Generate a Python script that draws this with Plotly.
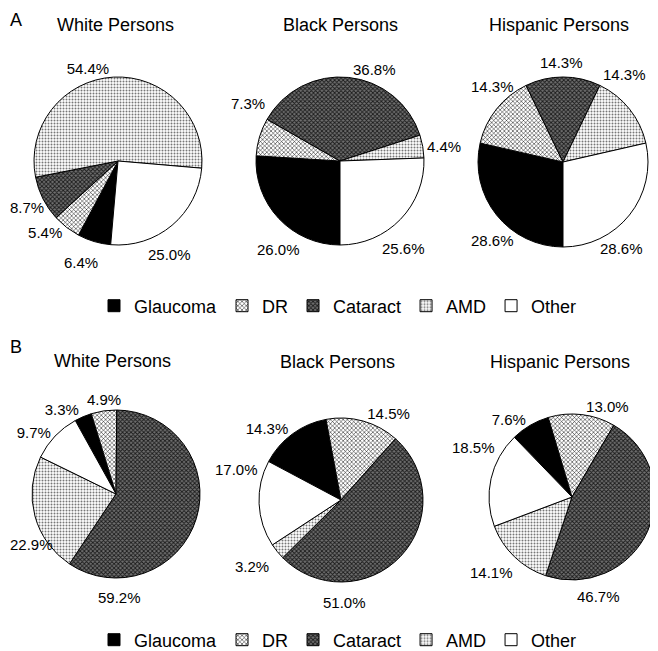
import math
import plotly.graph_objects as go

# data
causes = ["Glaucoma", "DR", "Cataract", "AMD", "Other"]
groups = ["White Persons", "Black Persons", "Hispanic Persons"]

# panel A
white_a = [6.4, 5.4, 8.7, 54.4, 25.0]
black_a = [26.0, 7.3, 36.8, 4.4, 25.6]
hispanic_a = [28.6, 14.3, 14.3, 14.3, 28.6]

# panel B
white_b = [3.3, 4.9, 59.2, 22.9, 9.7]
black_b = [14.3, 14.5, 51.0, 3.2, 17.0]
hispanic_b = [7.6, 13.0, 46.7, 14.1, 18.5]

# the page puts the plot 8px in from the window corner
OFF = 8
FW, FH = 658 - OFF, 651 - OFF
FONT = "Liberation Sans, Arial, sans-serif"


def fx(x):
    return (x - OFF) / FW


def fy(y):
    return 1 - (y - OFF) / FH


# fills for each cause: (bgcolor, fgcolor, shape, size, solidity)
fills = {
    "Glaucoma": ("#000000", "#000000", "", 4, 0.3),
    "DR": ("#ffffff", "#000000", "x", 3, 0.3),
    "Cataract": ("#707070", "#1a1a1a", "x", 3, 0.5),
    "AMD": ("#ffffff", "#777777", ".", 3, 0.35),
    "Other": ("#ffffff", "#ffffff", "", 4, 0.3),
}

# pie centre x, centre y, radius (px, window coords), start angle
geom_a = [(118, 161, 84, 185), (340, 161, 84, 180), (563, 162, 85, 180)]
geom_b = [(116, 494, 84, 331), (341, 500, 82, 298), (572, 497, 83, 316)]

# labels placed like the original rather than at the slice middle:
# (row, pie, slice) -> (angle clockwise from 12 o'clock, distance from centre)
moved = {
    (0, 0, 0): (200, 108),
    (0, 0, 2): (244, 107),
    (0, 0, 4): (151, 107),
    (0, 1, 0): (215, 108),
    (0, 1, 1): (302, 108),
    (0, 1, 4): (144, 108),
    (0, 2, 0): (222, 105),
    (0, 2, 1): (317, 103),
    (0, 2, 2): (359, 100),
    (0, 2, 3): (35, 107),
    (0, 2, 4): (146, 104),
    (1, 0, 1): (353, 95),
    (1, 0, 2): (178, 104),
    (1, 0, 3): (240, 100),
    (1, 1, 2): (178, 103),
    (1, 1, 3): (233, 111),
    (1, 1, 4): (286, 109),
    (1, 2, 2): (165, 103),
    (1, 2, 3): (227, 110),
    (1, 2, 4): (297, 110),
}

fig = go.Figure()
annotations = []

rows = [([white_a, black_a, hispanic_a], geom_a, "legend", "a"),
        ([white_b, black_b, hispanic_b], geom_b, "legend2", "b")]

for ri, (vals_list, geoms, leg, grp) in enumerate(rows):
    for pi, (vals, (cx, cy, r, rot)) in enumerate(zip(vals_list, geoms)):
        txt = [f"{v:.1f}%" for v in vals]
        pos = []
        for si in range(len(vals)):
            if (ri, pi, si) in moved:
                ang, dist = moved[(ri, pi, si)]
                a = math.radians(ang)
                lx = cx + dist * math.sin(a)
                ly = cy - dist * math.cos(a)
                half = 4.3 * len(txt[si])
                anchor = "center"
                if lx - half < OFF:
                    # keep it inside the page like the original
                    lx, anchor = OFF, "left"
                annotations.append(dict(
                    text=txt[si], showarrow=False, xref="paper", yref="paper",
                    x=fx(lx), y=fy(ly),
                    xanchor=anchor, yanchor="middle",
                    font=dict(size=15, family=FONT, color="black")))
                pos.append("none")
            else:
                pos.append("outside")
        fig.add_trace(go.Pie(
            labels=causes,
            values=vals,
            text=txt,
            texttemplate="%{text}",
            textposition=pos,
            textfont=dict(size=15, color="black", family=FONT),
            sort=False,
            direction="clockwise",
            rotation=rot,
            domain=dict(x=[fx(cx - r), fx(cx + r)], y=[fy(cy + r), fy(cy - r)]),
            legend=leg,
            legendgroup=grp,
            hoverinfo="label+text",
            marker=dict(
                colors=[fills[c][0] for c in causes],
                line=dict(color="black", width=1),
                pattern=dict(
                    shape=[fills[c][2] for c in causes],
                    fgcolor=[fills[c][1] for c in causes],
                    bgcolor=[fills[c][0] for c in causes],
                    size=[fills[c][3] for c in causes],
                    solidity=[fills[c][4] for c in causes],
                    fillmode="replace",
                ),
            ),
        ))

title_pos = [(115, 25), (340, 25), (559, 25), (112, 361), (337, 362), (560, 362)]
for g, (x, y) in zip(groups * 2, title_pos):
    annotations.append(dict(text=g, x=fx(x), y=fy(y), xref="paper", yref="paper",
                            xanchor="center", yanchor="middle", showarrow=False,
                            font=dict(size=18, family=FONT, color="black")))
annotations.append(dict(text="A", x=0, y=1, xref="paper", yref="paper",
                        xanchor="left", yanchor="top", showarrow=False,
                        font=dict(size=18, family=FONT, color="black")))
annotations.append(dict(text="B", x=0, y=fy(347), xref="paper", yref="paper",
                        xanchor="left", yanchor="middle", showarrow=False,
                        font=dict(size=18, family=FONT, color="black")))

legend_style = dict(orientation="h", xanchor="center", yanchor="middle",
                    x=fx(338),
                    font=dict(size=18, family=FONT, color="black"),
                    bgcolor="rgba(0,0,0,0)", traceorder="normal")

fig.update_layout(
    width=FW, height=FH,
    margin=dict(l=0, r=0, t=0, b=0, autoexpand=False),
    paper_bgcolor="white",
    plot_bgcolor="white",
    font=dict(family=FONT, color="black"),
    annotations=annotations,
    legend=dict(legend_style, y=fy(306)),
    legend2=dict(legend_style, y=fy(640)),
)

fig.write_html("out.html")
